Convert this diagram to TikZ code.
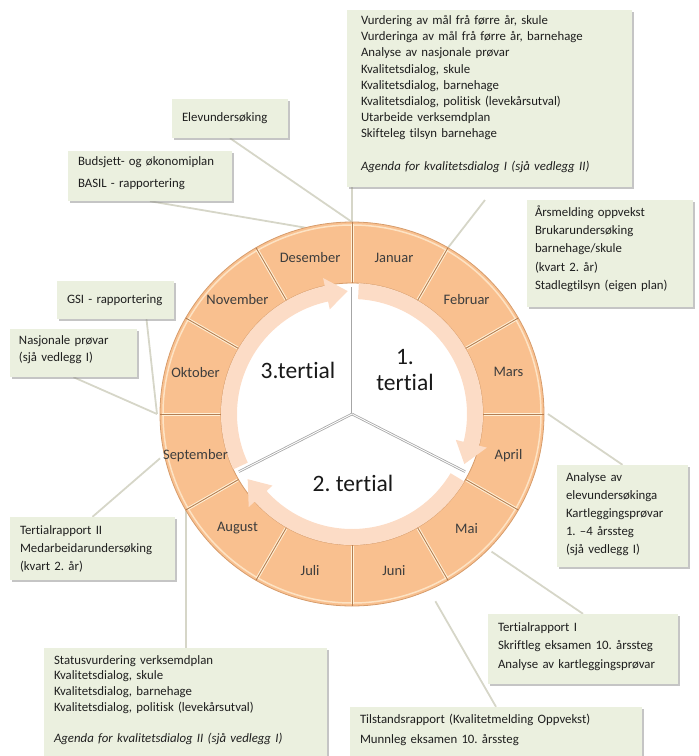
\documentclass[tikz,border=0pt]{standalone}
\usepackage{fontspec}
\setmainfont{Carlito}[Ligatures=NoCommon]
\frenchspacing
\usetikzlibrary{shadows,backgrounds}

\definecolor{boxfill}{HTML}{EBF0DF}
\definecolor{boxtxt}{HTML}{1E1E1E}
\definecolor{ringfill}{HTML}{F9C08F}
\definecolor{ringedge}{HTML}{D69C6B}
\definecolor{ringcream}{HTML}{FDE3C4}
\definecolor{divbrown}{HTML}{B47E52}
\definecolor{divcream}{HTML}{FFF0D6}
\definecolor{arrowfill}{HTML}{FCDCC6}
\definecolor{connline}{HTML}{D6D6C8}
\definecolor{monthtxt}{HTML}{3D3D3D}

\tikzset{
  box/.style={fill=boxfill, text=boxtxt, align=left, inner ysep=2pt,
    drop shadow={shadow xshift=1.5pt, shadow yshift=-2pt, fill=black!45, opacity=0.5}},
  conn/.style={draw=connline, line width=1.8pt},
  month/.style={text=monthtxt, font=\fontsize{14.5}{17}\selectfont},
  tertial/.style={text=black!90, align=center, font=\fontsize{23.5}{26}\selectfont},
  spoke/.style={draw=black!35, line width=0.8pt, double=white, double distance=0.9pt},
  arrowband/.style={fill=arrowfill},
  divline/.style={draw=divbrown, line width=0.9pt},
  divlight/.style={draw=divcream, line width=3pt},
}

\begin{document}
\begin{tikzpicture}[x=1pt, y=-1pt]
  \useasboundingbox (0,0) rectangle (699,756);

  \begin{scope}[shift={(352,414)}, y=1pt]
    \coordinate (rim90) at (90:192);
    \coordinate (rim104) at (104:192);
    \coordinate (rim60) at (60:192);
    \coordinate (rim0) at (0:196);
    \coordinate (rim315) at (-44.6:196);
    \coordinate (tilstend) at (-66:205);
    \coordinate (rim210) at (210:192);
    \coordinate (rim193) at (193:197);
    \coordinate (rim180) at (180:195);

    \fill[ringfill, even odd rule] (0,0) circle[radius=192] circle[radius=131];
    \draw[ringcream, line width=1.5pt] (0,0) circle[radius=189];
    \draw[ringedge, line width=0.8pt] (0,0) circle[radius=192];
    \draw[ringedge, line width=0.8pt] (0,0) circle[radius=131];
    \foreach \a in {0,30,...,330} {
      \draw[divlight] (\a:132) -- (\a:190);
      \draw[divline] (\a:131) -- (\a:192);
    }

    \fill[arrowband] (87:131) arc[start angle=87, end angle=-14, radius=131] -- (-14:139)
      -- (-24:123) -- (-14:107) -- (-14:115) arc[start angle=-14, end angle=87, radius=115] -- cycle;
    \fill[arrowband] (-31:131) arc[start angle=-31, end angle=-138, radius=131] -- (-138:139)
      -- (-148:123) -- (-138:107) -- (-138:115) arc[start angle=-138, end angle=-31, radius=115] -- cycle;
    \fill[arrowband] (205:131) arc[start angle=205, end angle=102, radius=131] -- (102:139)
      -- (92:123) -- (102:107) -- (102:115) arc[start angle=102, end angle=205, radius=115] -- cycle;

    \foreach \a in {90,-27,207}
      \draw[spoke] (0,0) -- (\a:127);

    \foreach \m/\n [count=\i] in {Januar/jan, Februar/feb, Mars/mar, April/apr, Mai/mai, Juni/jun,
        Juli/jul, August/aug, September/sep, Oktober/okt, November/nov, Desember/des}
      \node[month] (\n) at ({105-30*\i}:162) {\m};

    \node[tertial] (t1) at (53,44) {1.\\tertial};
    \node[tertial] (t2) at (1,-69) {2. tertial};
    \node[tertial] (t3) at (-54,44) {3.tertial};
  \end{scope}

  \coordinate (aarsend) at (485,200);

  \node[box, inner xsep=14pt, text width=257pt, minimum height=177pt,
    font=\fontsize{12.8}{16.2}\selectfont] (kvaldialog1) at (489.5,98.5)
    {Vurdering av mål frå førre år, skule\\
     Vurderinga av mål frå førre år, barnehage\\
     Analyse av nasjonale prøvar\\
     Kvalitetsdialog, skule\\
     Kvalitetsdialog, barnehage\\
     Kvalitetsdialog, politisk (levekårsutval)\\
     Utarbeide verksemdplan\\
     Skifteleg tilsyn barnehage\\[16.2pt]
     \textit{Agenda for kvalitetsdialog I (sjå vedlegg II)}\par\vspace{9pt}};
  \node[box, inner xsep=10pt, text width=96pt, minimum height=39pt,
    font=\fontsize{12.8}{16}\selectfont] (elev) at (230,118.5) {Elevundersøking};
  \node[box, inner xsep=10pt, text width=144pt, minimum height=50pt,
    font=\fontsize{12.8}{22}\selectfont] (budsjett) at (150,176)
    {Budsjett- og økonomiplan\\BASIL - rapportering\par\vspace{6pt}};
  \node[box, inner xsep=10pt, text width=97pt, minimum height=38pt,
    font=\fontsize{12.8}{16}\selectfont] (gsi) at (115.5,300) {GSI - rapportering};
  \node[box, inner xsep=9pt, text width=109pt, minimum height=48pt,
    font=\fontsize{12.8}{17}\selectfont] (nasjonale) at (73.5,353)
    {Nasjonale prøvar\\(sjå vedlegg I)\par\vspace{7pt}};
  \node[box, inner xsep=8pt, text width=150pt, minimum height=107pt,
    font=\fontsize{12.8}{18.3}\selectfont] (aarsmelding) at (610,253.5)
    {Årsmelding oppvekst\\Brukarundersøking\\barnehage/skule\\(kvart 2. år)\\Stadlegtilsyn (eigen plan)\par\vspace{10pt}};
  \node[box, inner xsep=9pt, text width=113pt, minimum height=102pt,
    font=\fontsize{12.8}{18}\selectfont] (analyse) at (622.5,516)
    {Analyse av\\elevundersøkinga\\Kartleggingsprøvar\\1. –4 årssteg\\(sjå vedlegg I)\par\vspace{4pt}};
  \node[box, inner xsep=10pt, text width=145pt, minimum height=63pt,
    font=\fontsize{12.8}{18}\selectfont] (trapport2) at (92.5,548.5)
    {Tertialrapport II\\Medarbeidarundersøking\\(kvart 2. år)};
  \node[box, inner xsep=10pt, text width=263pt, minimum height=120pt,
    font=\fontsize{12.8}{15.6}\selectfont] (status) at (185.5,708)
    {Statusvurdering verksemdplan\\
     Kvalitetsdialog, skule\\
     Kvalitetsdialog, barnehage\\
     Kvalitetsdialog, politisk (levekårsutval)\\[15.6pt]
     \textit{Agenda for kvalitetsdialog II (sjå vedlegg I)}\par\vspace{16pt}};
  \node[box, inner xsep=10pt, text width=170pt, minimum height=70pt,
    font=\fontsize{12.8}{18.5}\selectfont] (trapport1) at (583,649)
    {Tertialrapport I\\Skriftleg eksamen 10. årssteg\\Analyse av kartleggingsprøvar\par\vspace{5pt}};
  \node[box, inner xsep=10pt, text width=272pt, minimum height=62pt,
    font=\fontsize{12.8}{20}\selectfont] (tilstand) at (496,738)
    {Tilstandsrapport (Kvalitetmelding Oppvekst)\\Munnleg eksamen 10. årssteg\par\vspace{16pt}};

  \begin{pgfonlayer}{background}
    \draw[conn] (kvaldialog1.south -| rim90) -- (rim90);
    \draw[conn] (elev.south) -- (rim90);
    \draw[conn] (budsjett.south) -- (rim104);
    \draw[conn] (rim60) -- (aarsend);
    \draw[conn] (nasjonale.south) -- (rim180);
    \draw[conn] ([xshift=31pt]gsi.south) -- (rim180);
    \draw[conn] (trapport2.north) -- (rim193);
    \draw[conn] (rim210) -- (rim210 |- status.north);
    \draw[conn] (tilstand.north) -- (tilstend);
    \draw[conn] (trapport1.north) -- (rim315);
    \draw[conn] (analyse.north) -- (rim0);
  \end{pgfonlayer}
\end{tikzpicture}
\end{document}
